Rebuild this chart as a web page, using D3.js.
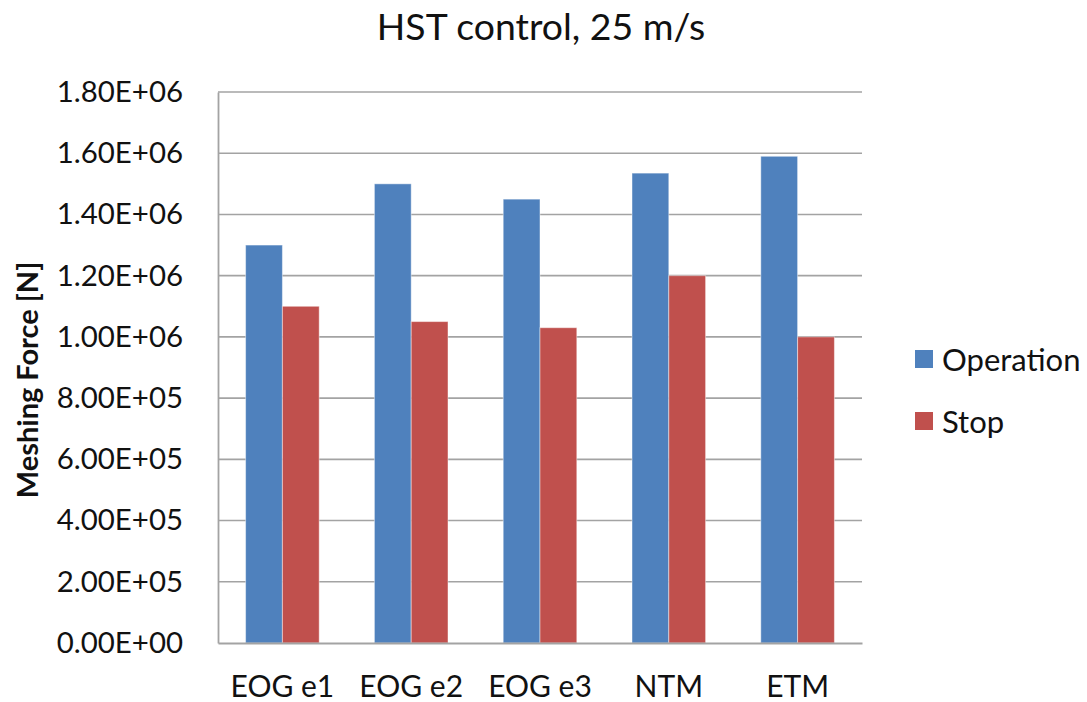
<!DOCTYPE html>
<html>
<head>
<meta charset="utf-8">
<script src="https://cdn.jsdelivr.net/npm/d3@7"></script>
<style>
  html, body { margin: 0; padding: 0; background: #fff; }
  svg { display: block; font-family: Lato, "Open Sans", sans-serif; }
</style>
</head>
<body>
<svg id="chart" width="1087" height="702"></svg>
<script>
// Meshing force per load case, HST control at 25 m/s
const categories = ["EOG e1", "EOG e2", "EOG e3", "NTM", "ETM"];
const seriesNames = ["Operation", "Stop"];
const operation = [1.30e6, 1.50e6, 1.45e6, 1.535e6, 1.59e6];
const stop = [1.10e6, 1.05e6, 1.03e6, 1.20e6, 1.00e6];
const yTicks = [0, 2e5, 4e5, 6e5, 8e5, 1e6, 1.2e6, 1.4e6, 1.6e6, 1.8e6];
const colors = ["#4F81BD", "#C0504D"];

const svg = d3.select("#chart");
const plot = { left: 218, right: 862, top: 92, bottom: 643 };

const x = d3.scaleBand().domain(categories).range([plot.left, plot.right]).padding(0);
const barW = x.bandwidth() / 3.5;
const inner = d3.scaleBand().domain(seriesNames)
  .range([(x.bandwidth() - 2 * barW) / 2, (x.bandwidth() + 2 * barW) / 2]).padding(0);
const y = d3.scaleLinear().domain([0, 1.8e6]).range([plot.bottom, plot.top]);

// Title
svg.append("text")
  .attr("x", 541).attr("y", 40)
  .attr("text-anchor", "middle")
  .attr("font-size", 37.4)
  .attr("fill", "#111")
  .text("HST control, 25 m/s");

// Horizontal gridlines
svg.append("g")
  .selectAll("line")
  .data(yTicks.filter(d => d > 0))
  .join("line")
  .attr("x1", plot.left).attr("x2", plot.right)
  .attr("y1", d => y(d)).attr("y2", d => y(d))
  .attr("stroke", "#a3a3a3").attr("stroke-width", 1.6);

// Y axis
const yAxis = d3.axisLeft(y).tickValues(yTicks).tickSize(0).tickPadding(35)
  .tickFormat(d => {
    const s = d.toExponential(2).toUpperCase();
    return s.replace(/E([+-])(\d)$/, "E$10$2");
  });
const gy = svg.append("g").attr("transform", `translate(${plot.left},0)`).call(yAxis);
gy.select(".domain").attr("stroke", "#a3a3a3").attr("stroke-width", 1.8);
gy.selectAll("text").attr("font-size", 29.4).attr("fill", "#111")
  .attr("font-family", "Lato, sans-serif");

// Bars
const rows = categories.map((c, i) => ({ cat: c, values: [operation[i], stop[i]] }));
svg.append("g")
  .selectAll("g")
  .data(rows)
  .join("g")
  .attr("transform", d => `translate(${x(d.cat)},0)`)
  .selectAll("rect")
  .data(d => d.values.map((v, j) => ({ name: seriesNames[j], value: v, j })))
  .join("rect")
  .attr("x", d => inner(d.name))
  .attr("width", barW)
  .attr("y", d => y(d.value))
  .attr("height", d => y(0) - y(d.value))
  .attr("fill", d => colors[d.j])
  .attr("stroke", "rgba(255,255,255,0.45)")
  .attr("stroke-width", 1);

// X axis
const xAxis = d3.axisBottom(x).tickSize(0).tickPadding(33);
const gx = svg.append("g").attr("transform", `translate(0,${plot.bottom})`).call(xAxis);
gx.select(".domain").attr("stroke", "#a3a3a3").attr("stroke-width", 1.8);
gx.selectAll("text").attr("font-size", 30).attr("fill", "#111")
  .attr("font-family", "Lato, sans-serif").attr("dy", "0.71em");

// Y axis title
svg.append("text")
  .attr("transform", "translate(38,380) rotate(-90)")
  .attr("text-anchor", "middle")
  .attr("font-size", 29)
  .attr("font-weight", "bold")
  .attr("fill", "#111")
  .text("Meshing Force [N]");

// Legend
const legend = svg.append("g")
  .selectAll("g")
  .data(seriesNames)
  .join("g")
  .attr("transform", (d, i) => `translate(915,${350 + i * 62})`);
legend.append("rect")
  .attr("width", 18).attr("height", 18)
  .attr("fill", (d, i) => colors[i]);
legend.append("text")
  .attr("x", 27).attr("y", 10).attr("dy", "0.36em")
  .attr("font-size", 31).attr("fill", "#111")
  .text(d => d);
</script>
</body>
</html>
